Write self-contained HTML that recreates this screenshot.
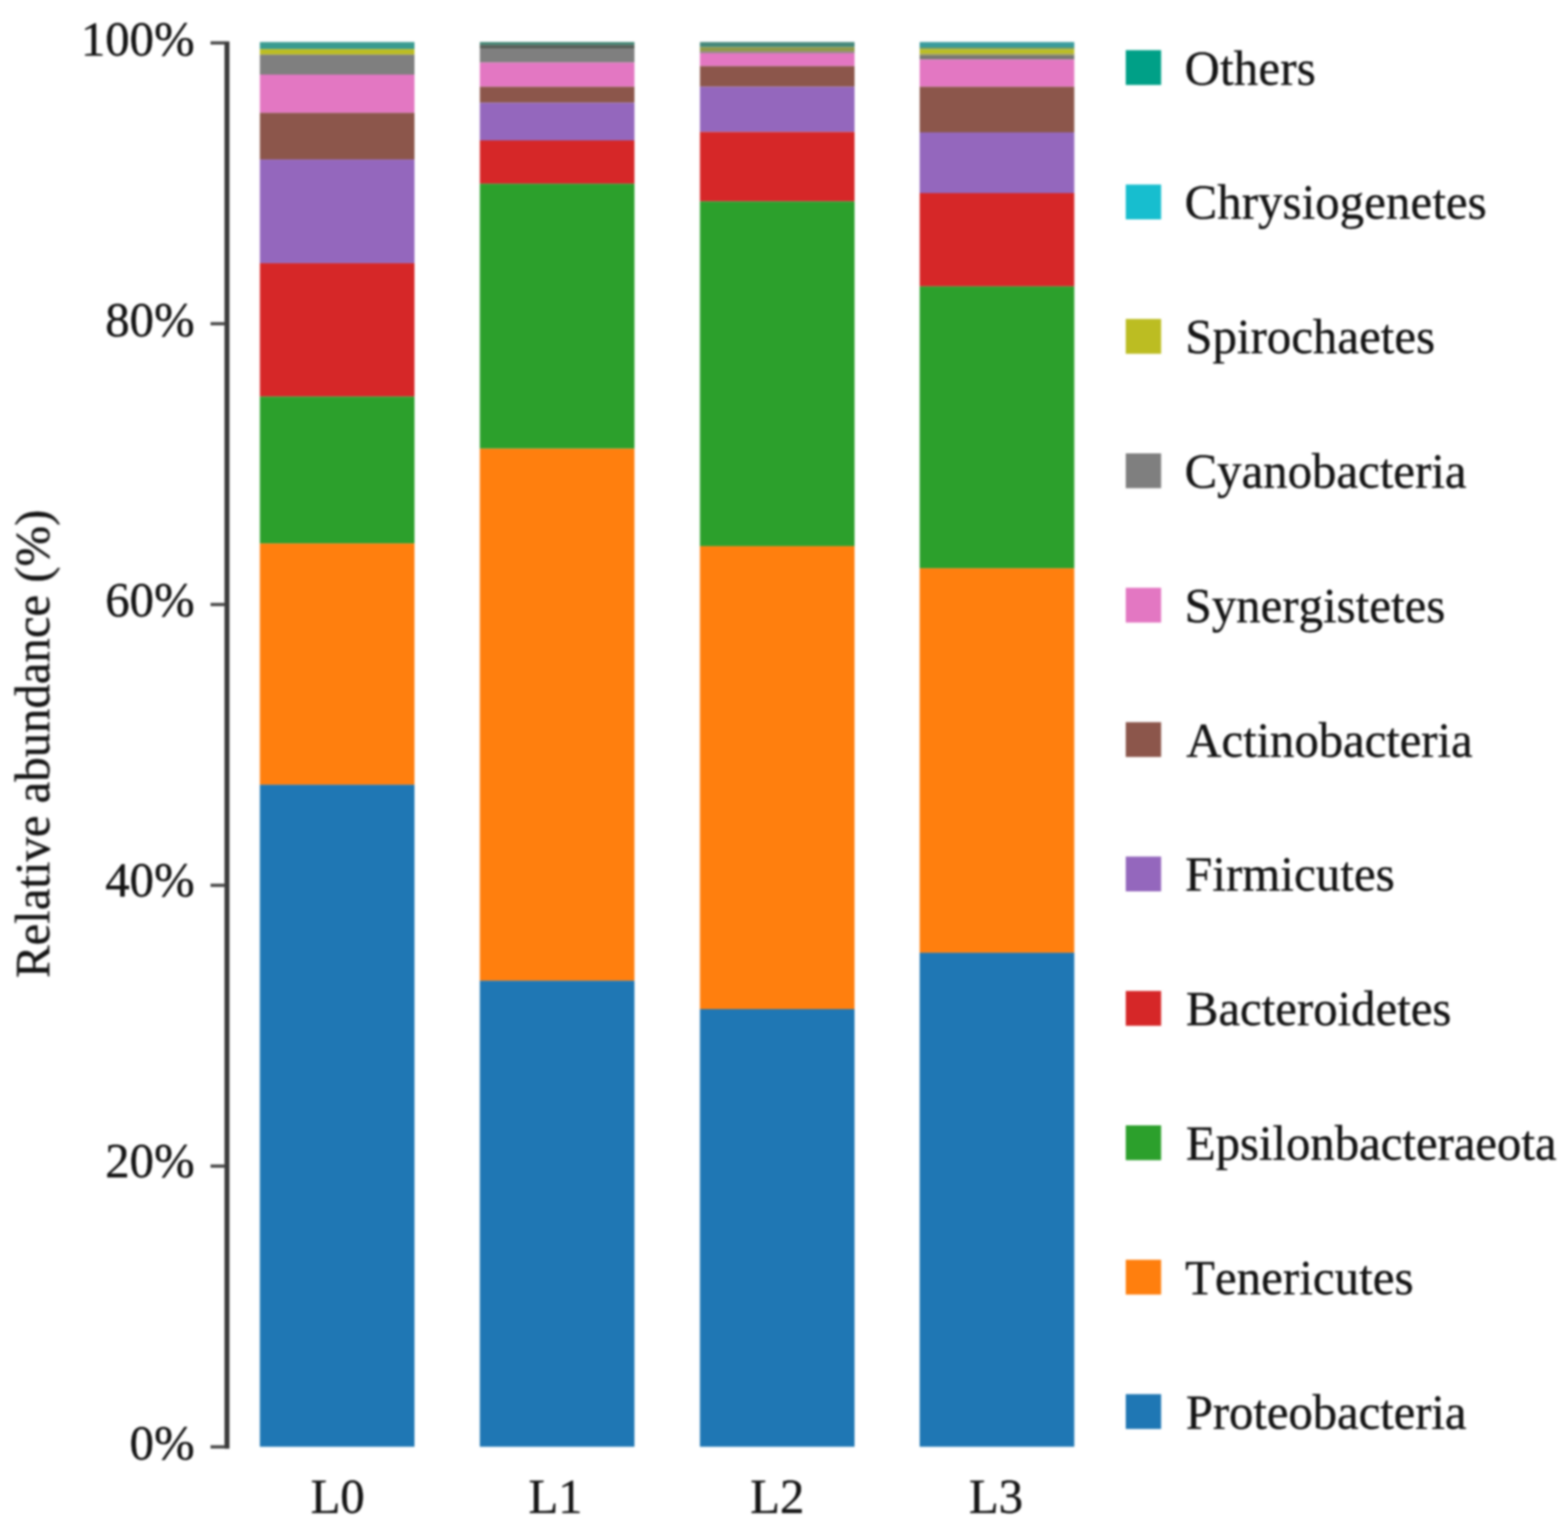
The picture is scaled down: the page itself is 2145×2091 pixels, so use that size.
<!DOCTYPE html>
<html lang="en"><head><meta charset="utf-8"><title>Relative abundance</title>
<style>html,body{margin:0;padding:0;background:#fff}svg{display:block;background:#fff}#chart{filter:blur(1.4px)}text{font-family:"Liberation Serif","DejaVu Serif",serif;font-size:66.67px;fill:#141414;font-kerning:none;stroke:#141414;stroke-width:0.5px;stroke-linejoin:round}</style></head><body>
<svg width="2145" height="2091" viewBox="0 0 2145 2091">
<rect width="2145" height="2091" fill="#ffffff"/>
<g id="chart">
<rect x="355.5" y="57.5" width="211.5" height="9.7" fill="#3a9b90"/>
<rect x="355.5" y="67.2" width="211.5" height="7.5" fill="#bcbd22"/>
<rect x="355.5" y="74.7" width="211.5" height="27.3" fill="#7f7f7f"/>
<rect x="355.5" y="102.0" width="211.5" height="52.3" fill="#e377c2"/>
<rect x="355.5" y="154.3" width="211.5" height="63.8" fill="#8c564b"/>
<rect x="355.5" y="218.1" width="211.5" height="141.8" fill="#9467bd"/>
<rect x="355.5" y="359.9" width="211.5" height="182.5" fill="#d62728"/>
<rect x="355.5" y="542.4" width="211.5" height="200.8" fill="#2ca02c"/>
<rect x="355.5" y="743.2" width="211.5" height="330.0" fill="#ff7f0e"/>
<rect x="355.5" y="1073.2" width="211.5" height="905.3" fill="#1f77b4"/>
<rect x="656.4" y="57.5" width="211.5" height="3.8" fill="#3f8573"/>
<rect x="656.4" y="61.3" width="211.5" height="4.7" fill="#565e57"/>
<rect x="656.4" y="66.0" width="211.5" height="19.5" fill="#7f7f7f"/>
<rect x="656.4" y="85.5" width="211.5" height="33.1" fill="#e377c2"/>
<rect x="656.4" y="118.6" width="211.5" height="21.9" fill="#8c564b"/>
<rect x="656.4" y="140.5" width="211.5" height="51.5" fill="#9467bd"/>
<rect x="656.4" y="192.0" width="211.5" height="59.3" fill="#d62728"/>
<rect x="656.4" y="251.3" width="211.5" height="362.3" fill="#2ca02c"/>
<rect x="656.4" y="613.6" width="211.5" height="727.6" fill="#ff7f0e"/>
<rect x="656.4" y="1341.2" width="211.5" height="637.3" fill="#1f77b4"/>
<rect x="957.5" y="57.5" width="211.5" height="6.9" fill="#45887a"/>
<rect x="957.5" y="64.4" width="211.5" height="6.0" fill="#8f9848"/>
<rect x="957.5" y="70.4" width="211.5" height="2.4" fill="#8a7a80"/>
<rect x="957.5" y="72.8" width="211.5" height="17.6" fill="#e377c2"/>
<rect x="957.5" y="90.4" width="211.5" height="28.2" fill="#8c564b"/>
<rect x="957.5" y="118.6" width="211.5" height="61.8" fill="#9467bd"/>
<rect x="957.5" y="180.4" width="211.5" height="95.0" fill="#d62728"/>
<rect x="957.5" y="275.4" width="211.5" height="471.5" fill="#2ca02c"/>
<rect x="957.5" y="746.9" width="211.5" height="633.1" fill="#ff7f0e"/>
<rect x="957.5" y="1380.0" width="211.5" height="598.5" fill="#1f77b4"/>
<rect x="1258.1" y="57.5" width="211.5" height="7.5" fill="#3a9b9c"/>
<rect x="1258.1" y="65.0" width="211.5" height="2.6" fill="#7d9d55"/>
<rect x="1258.1" y="67.6" width="211.5" height="5.8" fill="#bcbd22"/>
<rect x="1258.1" y="73.4" width="211.5" height="2.4" fill="#9a9a55"/>
<rect x="1258.1" y="75.8" width="211.5" height="5.6" fill="#767672"/>
<rect x="1258.1" y="81.4" width="211.5" height="37.2" fill="#e377c2"/>
<rect x="1258.1" y="118.6" width="211.5" height="62.4" fill="#8c564b"/>
<rect x="1258.1" y="181.0" width="211.5" height="83.0" fill="#9467bd"/>
<rect x="1258.1" y="264.0" width="211.5" height="127.7" fill="#d62728"/>
<rect x="1258.1" y="391.7" width="211.5" height="385.5" fill="#2ca02c"/>
<rect x="1258.1" y="777.2" width="211.5" height="525.7" fill="#ff7f0e"/>
<rect x="1258.1" y="1302.9" width="211.5" height="675.6" fill="#1f77b4"/>
<rect x="307.1" y="56.6" width="6.8" height="1924.6" fill="#3a3a3a"/>
<rect x="288.0" y="56.5" width="20" height="4.4" fill="#484848"/>
<rect x="288.0" y="440.5" width="20" height="4.4" fill="#484848"/>
<rect x="288.0" y="824.5" width="20" height="4.4" fill="#484848"/>
<rect x="288.0" y="1208.5" width="20" height="4.4" fill="#484848"/>
<rect x="288.0" y="1592.5" width="20" height="4.4" fill="#484848"/>
<rect x="288.0" y="1976.5" width="20" height="4.4" fill="#484848"/>
<text x="266.2" y="76.3" text-anchor="end">100%</text>
<text x="266.2" y="459.6" text-anchor="end">80%</text>
<text x="266.2" y="843.0" text-anchor="end">60%</text>
<text x="266.2" y="1226.3" text-anchor="end">40%</text>
<text x="266.2" y="1609.6" text-anchor="end">20%</text>
<text x="266.2" y="1996.0" text-anchor="end">0%</text>
<text transform="translate(67.3 1017.2) rotate(-90)" text-anchor="middle">Relative abundance (%)</text>
<text x="461.9" y="2068.6" text-anchor="middle">L0</text>
<text x="759.9" y="2068.6" text-anchor="middle">L1</text>
<text x="1063.2" y="2068.6" text-anchor="middle">L2</text>
<text x="1362.6" y="2068.6" text-anchor="middle">L3</text>
<rect x="1540.0" y="68.6" width="48.4" height="47.6" fill="#00a087"/>
<text x="1620.5" y="115.6" textLength="179.4" lengthAdjust="spacing">Others</text>
<rect x="1540.0" y="252.4" width="48.4" height="47.6" fill="#17becf"/>
<text x="1620.5" y="299.4" textLength="413.3" lengthAdjust="spacing">Chrysiogenetes</text>
<rect x="1540.0" y="436.2" width="48.4" height="47.6" fill="#bcbd22"/>
<text x="1621.5" y="483.2" textLength="341.6" lengthAdjust="spacing">Spirochaetes</text>
<rect x="1540.0" y="620.0" width="48.4" height="47.6" fill="#7f7f7f"/>
<text x="1620.5" y="667.0" textLength="385.6" lengthAdjust="spacing">Cyanobacteria</text>
<rect x="1540.0" y="803.8" width="48.4" height="47.6" fill="#e377c2"/>
<text x="1620.5" y="850.8" textLength="356.7" lengthAdjust="spacing">Synergistetes</text>
<rect x="1540.0" y="987.6" width="48.4" height="47.6" fill="#8c564b"/>
<text x="1622.8" y="1034.6" textLength="391.7" lengthAdjust="spacing">Actinobacteria</text>
<rect x="1540.0" y="1171.4" width="48.4" height="47.6" fill="#9467bd"/>
<text x="1621.2" y="1218.4" textLength="286.7" lengthAdjust="spacing">Firmicutes</text>
<rect x="1540.0" y="1355.2" width="48.4" height="47.6" fill="#d62728"/>
<text x="1622.2" y="1402.2" textLength="363.3" lengthAdjust="spacing">Bacteroidetes</text>
<rect x="1540.0" y="1539.0" width="48.4" height="47.6" fill="#2ca02c"/>
<text x="1622.2" y="1586.0" textLength="507.1" lengthAdjust="spacing">Epsilonbacteraeota</text>
<rect x="1540.0" y="1722.8" width="48.4" height="47.6" fill="#ff7f0e"/>
<text x="1621.2" y="1769.8" textLength="312.5" lengthAdjust="spacing">Tenericutes</text>
<rect x="1540.0" y="1906.6" width="48.4" height="47.6" fill="#1f77b4"/>
<text x="1622.2" y="1953.6" textLength="383.9" lengthAdjust="spacing">Proteobacteria</text>
</g></svg></body></html>
